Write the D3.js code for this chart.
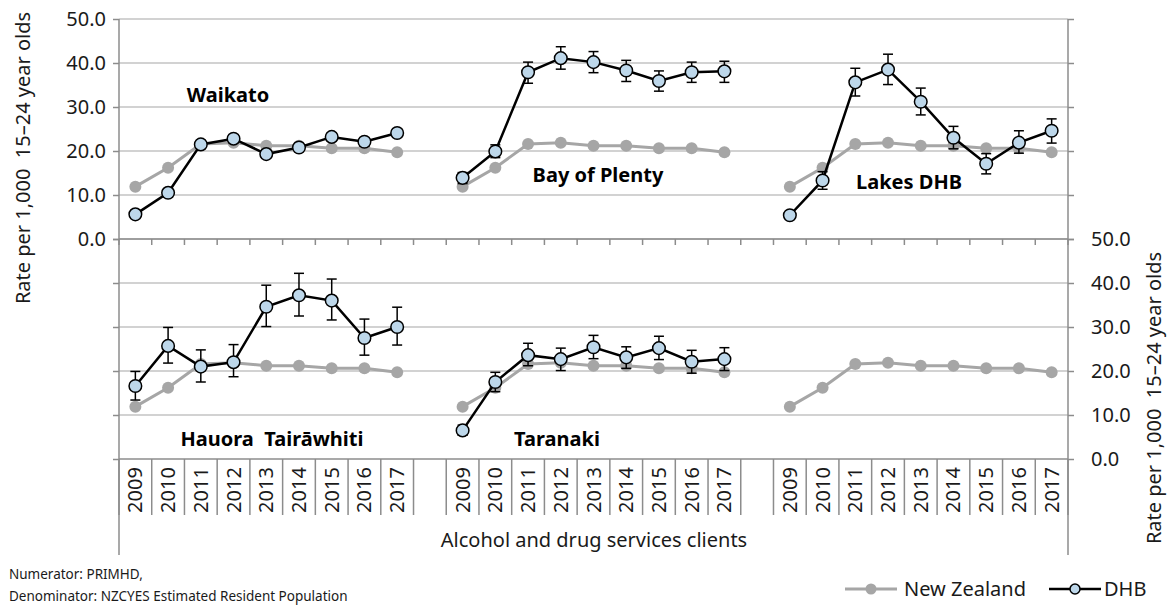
<!DOCTYPE html>
<html><head><meta charset="utf-8">
<script src="https://cdn.jsdelivr.net/npm/d3@7"></script>
<style>
html,body{margin:0;padding:0;background:#fff;}
svg{display:block;font-family:"Noto Sans",sans-serif;}
</style></head>
<body><svg id="chart" width="1168" height="606"></svg>
<script>
const years = ["2009","2010","2011","2012","2013","2014","2015","2016","2017"];
const yTicks = [0,10,20,30,40,50];
const nz = [11.9,16.2,21.6,21.9,21.2,21.2,20.6,20.6,19.7];
const waikato   = [5.6,10.5,21.5,22.8,19.3,20.8,23.2,22.1,24.1];
const waikatoLo = [4.8,9.6,20.6,21.9,18.5,19.9,22.3,21.2,23.2];
const waikatoHi = [6.4,11.4,22.4,23.7,20.1,21.7,24.1,23.0,25.0];
const bop   = [13.9,19.9,37.9,41.1,40.2,38.3,35.9,37.9,38.1];
const bopLo = [12.6,18.5,35.4,38.6,37.8,35.8,33.6,35.6,35.6];
const bopHi = [15.1,21.4,40.2,43.7,42.6,40.6,38.2,40.2,40.4];
const lakes   = [5.4,13.3,35.6,38.5,31.2,23.0,17.1,21.9,24.6];
const lakesLo = [4.6,11.3,32.5,35.1,28.2,20.5,14.8,19.5,21.8];
const lakesHi = [6.2,15.3,38.8,42.0,34.3,25.6,19.4,24.6,27.3];
const tairawhiti   = [16.6,25.7,21.0,22.0,34.6,37.2,36.0,27.5,30.0];
const tairawhitiLo = [13.4,21.8,17.5,18.7,30.1,32.5,31.6,23.6,25.9];
const tairawhitiHi = [19.9,29.9,24.8,26.0,39.5,42.2,40.9,31.8,34.5];
const taranaki   = [6.5,17.5,23.6,22.7,25.4,23.1,25.2,22.1,22.7];
const taranakiLo = [5.4,15.3,21.2,20.1,22.8,20.6,22.6,19.5,20.1];
const taranakiHi = [7.7,19.7,26.3,25.2,28.1,25.5,27.9,24.7,25.3];
const panelNames = ["Waikato","Bay of Plenty","Lakes DHB","Hauora  Tairāwhiti","Taranaki",""];

const panels = [
  {row:0,col:0,name:panelNames[0],v:waikato,lo:waikatoLo,hi:waikatoHi,lx:228,ly:102},
  {row:0,col:1,name:panelNames[1],v:bop,lo:bopLo,hi:bopHi,lx:598,ly:182},
  {row:0,col:2,name:panelNames[2],v:lakes,lo:lakesLo,hi:lakesHi,lx:909,ly:189},
  {row:1,col:0,name:panelNames[3],v:tairawhiti,lo:tairawhitiLo,hi:tairawhitiHi,lx:272,ly:446},
  {row:1,col:1,name:panelNames[4],v:taranaki,lo:taranakiLo,hi:taranakiHi,lx:557,ly:446},
  {row:1,col:2,name:panelNames[5],v:null}
];

const svg = d3.select("#chart");
const X0 = 119, X1 = 1068;
const FS = 20;
const slots = [];
for (let g=0; g<3; g++){ years.forEach(y=>slots.push(g+"-"+y)); if(g<2) slots.push("gap"+g); }
const x = d3.scaleBand().domain(slots).range([X0,X1]).paddingInner(0).paddingOuter(0);
const bw = x.bandwidth();
const cx = (g,y)=> x(g+"-"+y)+bw/2;
const yS = [d3.scaleLinear().domain([0,50]).range([239,19]),
            d3.scaleLinear().domain([0,50]).range([459,239])];

const gridC = "#c3c3c3", axisC = "#8c8c8c", nzC = "#a6a6a6", fillC = "#bdd7ea", txtC = "#1a1a1a";

// gridlines
yS.forEach((s,r)=>{
  svg.append("g").selectAll("line").data(yTicks.filter(t=>t>0)).join("line")
    .attr("x1",X0).attr("x2",X1).attr("y1",d=>s(d)).attr("y2",d=>s(d))
    .attr("stroke",gridC).attr("stroke-width",1.5);
});

// left axis and right axis
const leftAx = d3.axisLeft(yS[0]).tickValues(yTicks).tickSize(6).tickFormat(d3.format(".1f"));
const gl = svg.append("g").attr("transform",`translate(${X0},0)`).call(leftAx);
const leftAx2 = d3.axisLeft(yS[1]).tickValues(yTicks).tickSize(6).tickFormat("");
const gl2 = svg.append("g").attr("transform",`translate(${X0},0)`).call(leftAx2);
const rightAx = d3.axisRight(yS[1]).tickValues(yTicks).tickSize(6).tickFormat(d3.format(".1f"));
const gr = svg.append("g").attr("transform",`translate(${X1},0)`).call(rightAx);
const rightAx2 = d3.axisRight(yS[0]).tickValues(yTicks).tickSize(6).tickFormat("");
const gr2 = svg.append("g").attr("transform",`translate(${X1},0)`).call(rightAx2);
[gl,gl2,gr,gr2].forEach(g=>{
  g.select(".domain").remove();
  g.selectAll(".tick line").attr("stroke",axisC).attr("stroke-width",1.5);
  g.selectAll("text").attr("font-size",FS).attr("fill",txtC).attr("font-family","Noto Sans");
});
gl.selectAll("text").attr("x",-13);
gr.selectAll("text").attr("x",23).attr("text-anchor","start");
svg.append("line").attr("x1",X0).attr("x2",X0).attr("y1",19).attr("y2",555).attr("stroke",axisC).attr("stroke-width",1.5);
svg.append("line").attr("x1",X1).attr("x2",X1).attr("y1",19).attr("y2",555).attr("stroke",axisC).attr("stroke-width",1.5);

// top category axis (y=239) with ticks at band boundaries
const bounds = d3.range(slots.length+1).map(k=> X0 + k*bw);
svg.append("line").attr("x1",X0).attr("x2",X1).attr("y1",yS[0](0)).attr("y2",yS[0](0)).attr("stroke",axisC).attr("stroke-width",1.5);
svg.append("g").selectAll("line").data(bounds).join("line")
  .attr("x1",d=>d).attr("x2",d=>d).attr("y1",yS[0](0)).attr("y2",yS[0](0)+6)
  .attr("stroke",axisC).attr("stroke-width",1.5);

// bottom category axis
const yb = yS[1](0);
svg.append("line").attr("x1",X0).attr("x2",X1).attr("y1",yb).attr("y2",yb).attr("stroke",axisC).attr("stroke-width",1.5);
const divs = [];
for (let g=0; g<3; g++){ for(let k=0;k<=9;k++){ divs.push(x(g+"-"+years[0]) + k*bw); } }
svg.append("g").selectAll("line").data(divs).join("line")
  .attr("x1",d=>d).attr("x2",d=>d).attr("y1",yb).attr("y2",515)
  .attr("stroke",axisC).attr("stroke-width",1.5);
const yl = [];
for (let g=0; g<3; g++) years.forEach(y=>yl.push({g,y}));
svg.append("g").selectAll("text").data(yl).join("text")
  .attr("transform",d=>`translate(${cx(d.g,d.y)},490) rotate(-90)`)
  .attr("text-anchor","middle").attr("dy","0.35em")
  .attr("font-size",FS).attr("fill",txtC).text(d=>d.y);

// series
const line = d3.line();
panels.forEach(p=>{
  const s = yS[p.row];
  const g = svg.append("g");
  const nzPts = years.map((y,i)=>[cx(p.col,y), s(nz[i])]);
  g.append("path").attr("d",line(nzPts)).attr("fill","none").attr("stroke",nzC).attr("stroke-width",3);
  g.selectAll("circle.nz").data(nzPts).join("circle").attr("class","nz")
    .attr("cx",d=>d[0]).attr("cy",d=>d[1]).attr("r",6).attr("fill",nzC);
  if (p.v){
    const pts = years.map((y,i)=>({x:cx(p.col,y), y:s(p.v[i]), lo:s(p.lo[i]), hi:s(p.hi[i])}));
    g.selectAll("line.eb").data(pts).join("line").attr("class","eb")
      .attr("x1",d=>d.x).attr("x2",d=>d.x).attr("y1",d=>d.lo).attr("y2",d=>d.hi)
      .attr("stroke","#000").attr("stroke-width",1.5);
    ["lo","hi"].forEach(k=>{
      g.selectAll("line.c"+k).data(pts).join("line").attr("class","c"+k)
        .attr("x1",d=>d.x-5).attr("x2",d=>d.x+5).attr("y1",d=>d[k]).attr("y2",d=>d[k])
        .attr("stroke","#000").attr("stroke-width",1.5);
    });
    g.append("path").attr("d",line(pts.map(d=>[d.x,d.y]))).attr("fill","none").attr("stroke","#000").attr("stroke-width",2.5);
    g.selectAll("circle.dhb").data(pts).join("circle").attr("class","dhb")
      .attr("cx",d=>d.x).attr("cy",d=>d.y).attr("r",6.3).attr("fill",fillC).attr("stroke","#000").attr("stroke-width",1.5);
  }
  if (p.name){
    svg.append("text").attr("x",p.lx).attr("y",p.ly).attr("text-anchor","middle")
      .attr("font-size",FS).attr("font-weight","bold").attr("fill","#000")
      .style("white-space","pre").text(p.name);
  }
});

// axis titles
svg.append("text").attr("transform","translate(23,158) rotate(-90)").attr("text-anchor","middle")
  .attr("dy","0.35em").attr("font-size",FS).attr("fill",txtC).style("white-space","pre").text("Rate per 1,000  15–24 year olds");
svg.append("text").attr("transform","translate(1154,398) rotate(-90)").attr("text-anchor","middle")
  .attr("dy","0.35em").attr("font-size",FS).attr("fill",txtC).style("white-space","pre").text("Rate per 1,000  15–24 year olds");
svg.append("text").attr("x",594).attr("y",547).attr("text-anchor","middle")
  .attr("font-size",FS).attr("fill",txtC).text("Alcohol and drug services clients");

// footer
svg.append("text").attr("x",9).attr("y",579).attr("font-size",13.5).attr("fill",txtC).text("Numerator: PRIMHD,");
svg.append("text").attr("x",9).attr("y",601).attr("font-size",13.5).attr("fill",txtC).text("Denominator: NZCYES Estimated Resident Population");

// legend
const ly = 589;
svg.append("line").attr("x1",845).attr("x2",897).attr("y1",ly).attr("y2",ly).attr("stroke",nzC).attr("stroke-width",3);
svg.append("circle").attr("cx",871).attr("cy",ly).attr("r",5.5).attr("fill",nzC);
svg.append("text").attr("x",904).attr("y",ly).attr("dy","0.35em").attr("font-size",FS).attr("fill",txtC).text("New Zealand");
svg.append("line").attr("x1",1049).attr("x2",1101).attr("y1",ly).attr("y2",ly).attr("stroke","#000").attr("stroke-width",2.5);
svg.append("circle").attr("cx",1075).attr("cy",ly).attr("r",5).attr("fill",fillC).attr("stroke","#000").attr("stroke-width",1.5);
svg.append("text").attr("x",1104).attr("y",ly).attr("dy","0.35em").attr("font-size",FS).attr("fill",txtC).text("DHB");
</script></body></html>
